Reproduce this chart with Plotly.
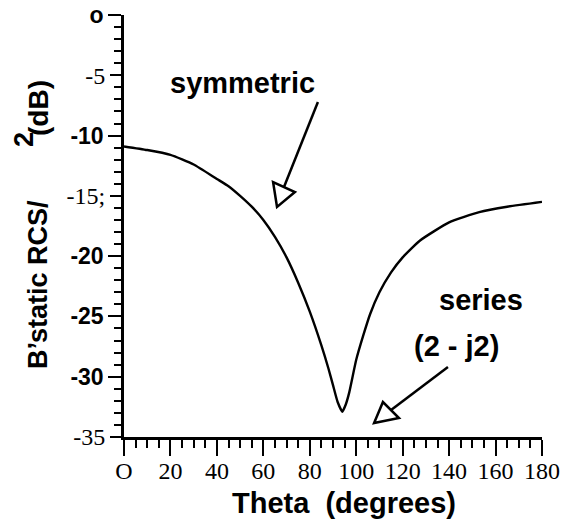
import plotly.graph_objects as go

# Curve data
theta = [0, 10, 20, 30, 40, 45, 50, 55, 60, 65, 70, 75, 80, 85, 88, 90, 92, 94, 95.5, 97,
         100, 103, 106, 110, 115, 120, 127.5, 140, 153, 165, 180]
rcs_db = [-10.9, -11.2, -11.6, -12.4, -13.6, -14.2, -15.0, -15.9, -17.0, -18.4, -20.1, -22.2,
          -24.6, -27.4, -29.3, -30.7, -32.1, -32.9, -32.3, -31.3, -28.6, -26.6, -24.8, -23.0,
          -21.35, -20.1, -18.7, -17.2, -16.35, -15.9, -15.5]

x_tickvals = [0, 20, 40, 60, 80, 100, 120, 140, 160, 180]
x_ticktext = ["O", "20", "40", "60", "80", "100", "120", "140", "160", "180"]
# y tick labels: some printed bold sans-serif, some in a serif face
y_sans_vals = [0, -10, -20, -25, -30]
y_sans_text = ["o", "-10", "-20", "-25", "-30"]
y_serif_vals = [-5, -15, -35]
y_serif_text = ["-5", "-15;", "-35"]

SANS = "Liberation Sans, Arial, sans-serif"
SERIF = "Liberation Serif, Times New Roman, serif"

# plot area in pixels (reference picture)
PL, PR, PT, PB = 124, 542, 15, 437
W, H = 569, 531


def paper(px, py):
    return (px - PL) / (PR - PL), 1 - (py - PT) / (PB - PT)


fig = go.Figure()
fig.add_trace(go.Scatter(x=theta, y=rcs_db, mode="lines",
                         line=dict(color="black", width=2.4, shape="spline", smoothing=0.5),
                         showlegend=False, hoverinfo="skip"))
# invisible trace to carry the second (serif-label) y axis
fig.add_trace(go.Scatter(x=[theta[0]], y=[rcs_db[0]], yaxis="y2", mode="markers",
                         marker=dict(opacity=0), showlegend=False, hoverinfo="skip"))

# annotation arrows (open triangle heads), data coordinates
arrows = [
    dict(line=((83.5, -7.22), (68.9, -14.27)),
         head=((65.9, -15.92), (64.2, -13.85), (73.6, -14.68))),
    dict(line=((139.5, -29.19), (115.0, -32.76)),
         head=((107.7, -33.84), (111.5, -32.10), (118.4, -33.43))),
]
for a in arrows:
    (x0, y0), (x1, y1) = a["line"]
    fig.add_shape(type="line", xref="x", yref="y", x0=x0, y0=y0, x1=x1, y1=y1,
                  line=dict(color="black", width=2.5))
    p = a["head"]
    path = f"M {p[0][0]},{p[0][1]} L {p[1][0]},{p[1][1]} L {p[2][0]},{p[2][1]} Z"
    fig.add_shape(type="path", xref="x", yref="y", path=path,
                  line=dict(color="black", width=2.5), fillcolor="white")


def label(text, px, py, size, angle=0):
    x, y = paper(px, py)
    fig.add_annotation(x=x, y=y, xref="paper", yref="paper", text=text, showarrow=False,
                       textangle=angle, xanchor="center", yanchor="middle",
                       font=dict(family=SANS, size=size, color="black"))


label("<b>symmetric</b>", 242, 83, 29)
label("<b>series</b>", 481, 300, 29)
label("<b>(2 - j2)</b>", 456, 346, 29)
# axis titles
label("<b>Theta &nbsp;(degrees)</b>", 344, 503, 29)
label("<b>B’static RCS/</b>", 38, 285, 27, -90)
label("<b>2</b>", 24, 140, 27, -90)
label("<b>(dB)</b>", 38, 108, 28, -90)

xaxis = dict(range=[0, 180], tickmode="array", tickvals=x_tickvals, ticktext=x_ticktext,
             ticks="outside", ticklen=16, tickwidth=2, tickcolor="black",
             minor=dict(dtick=5, ticks="outside", ticklen=8, tickwidth=1.5, tickcolor="black"),
             showline=True, linewidth=2.5, linecolor="black", showgrid=False, zeroline=False,
             tickfont=dict(family=SERIF, size=24, color="black"),
             automargin=False)

fig.update_layout(
    width=W, height=H,
    margin=dict(l=PL, r=W - PR, t=PT, b=H - PB),
    paper_bgcolor="white", plot_bgcolor="white",
    font=dict(family=SANS, color="black"),
    xaxis=xaxis,
    yaxis=dict(range=[-35, 0], tickmode="array", tickvals=y_sans_vals, ticktext=y_sans_text,
               ticks="outside", ticklen=13, tickwidth=2, tickcolor="black",
               minor=dict(dtick=1, ticks="outside", ticklen=7, tickwidth=1.5, tickcolor="black"),
               showline=True, linewidth=2.5, linecolor="black", showgrid=False, zeroline=False,
               tickfont=dict(family=SANS, size=23, color="black", weight="bold"),
               automargin=False),
    yaxis2=dict(range=[-35, 0], overlaying="y", side="left", tickmode="array",
                tickvals=y_serif_vals, ticktext=y_serif_text,
                ticks="outside", ticklen=13, tickwidth=2, tickcolor="black",
                showline=False, showgrid=False, zeroline=False,
                tickfont=dict(family=SERIF, size=24, color="black"),
                automargin=False),
)
# pull the x tick labels a little closer to the axis, as printed
try:
    fig.update_xaxes(ticklabelstandoff=-6)
except Exception:
    pass

fig.write_html("out.html", config={"displayModeBar": False},
               post_script="document.body.style.margin='0';document.body.style.padding='0';")
